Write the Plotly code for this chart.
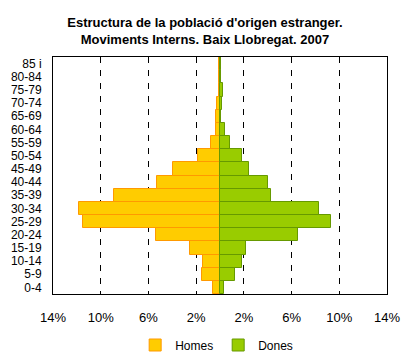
import plotly.graph_objects as go

ages = ["0-4", "5-9", "10-14", "15-19", "20-24", "25-29", "30-34", "35-39", "40-44",
        "45-49", "50-54", "55-59", "60-64", "65-69", "70-74", "75-79", "80-84", "85 i"]
homes = [0.62, 1.54, 1.46, 2.5, 5.4, 11.5, 11.8, 8.9, 5.3,
         3.9, 1.88, 0.73, 0.34, 0.34, 0.22, 0.05, 0.1, 0.12]
dones = [0.31, 1.26, 1.85, 2.2, 6.5, 9.3, 8.3, 4.3, 4.0,
         2.4, 1.82, 0.84, 0.42, 0.1, 0.2, 0.22, 0.05, 0.05]
tick_vals = [-14, -10, -6, -2, 2, 6, 10, 14]
tick_text = ["14%", "10%", "6%", "2%", "2%", "6%", "10%", "14%"]

fig = go.Figure()
fig.add_trace(go.Bar(
    y=ages, x=[-v for v in homes], orientation="h", name="Homes",
    marker=dict(color="#FFCC00", line=dict(color="#FF9900", width=1)),
    width=1.0,
))
fig.add_trace(go.Bar(
    y=ages, x=dones, orientation="h", name="Dones",
    marker=dict(color="#99CC00", line=dict(color="#669900", width=1)),
    width=1.0,
))

font = "Liberation Sans, Arial, sans-serif"
W, H = 403, 353
fig.update_layout(
    width=W, height=H,
    margin=dict(l=53, r=16, t=57, b=59, autoexpand=False),
    barmode="overlay",
    bargap=0,
    plot_bgcolor="white",
    paper_bgcolor="white",
    font=dict(family=font, size=12, color="black"),
    title=dict(
        text="<b>Estructura de la població d'origen estranger.<br>Moviments Interns. Baix Llobregat. 2007</b>",
        x=205 / W, xanchor="center", yref="container", y=1 - 27 / H, yanchor="top",
        font=dict(family=font, size=13, color="black"),
    ),
    legend=dict(
        orientation="h", x=0.49, xanchor="center", yref="paper", y=-(345 - 294) / 237, yanchor="middle",
        font=dict(family=font, size=12), itemwidth=30,
        traceorder="normal",
    ),
    showlegend=True,
)
fig.update_xaxes(
    range=[-14, 14], tickvals=tick_vals, ticktext=tick_text,
    showgrid=True, gridcolor="black", gridwidth=1, griddash="6px,7px",
    zeroline=False, showline=True, linecolor="black", linewidth=1, mirror=True,
    ticks="", ticklabelstandoff=11, tickfont=dict(size=13),
    fixedrange=True,
)
fig.update_yaxes(
    categoryorder="array", categoryarray=ages, tickmode="array", tickvals=ages,
    showgrid=False, zeroline=False, showline=True, linecolor="black", linewidth=1, mirror=True,
    ticks="", ticklabelstandoff=8, tickfont=dict(size=12),
    fixedrange=True,
)

fig.write_html(
    "out.html",
    config={"displayModeBar": False},
    post_script="document.body.style.margin='0';document.body.style.overflow='hidden';",
)
